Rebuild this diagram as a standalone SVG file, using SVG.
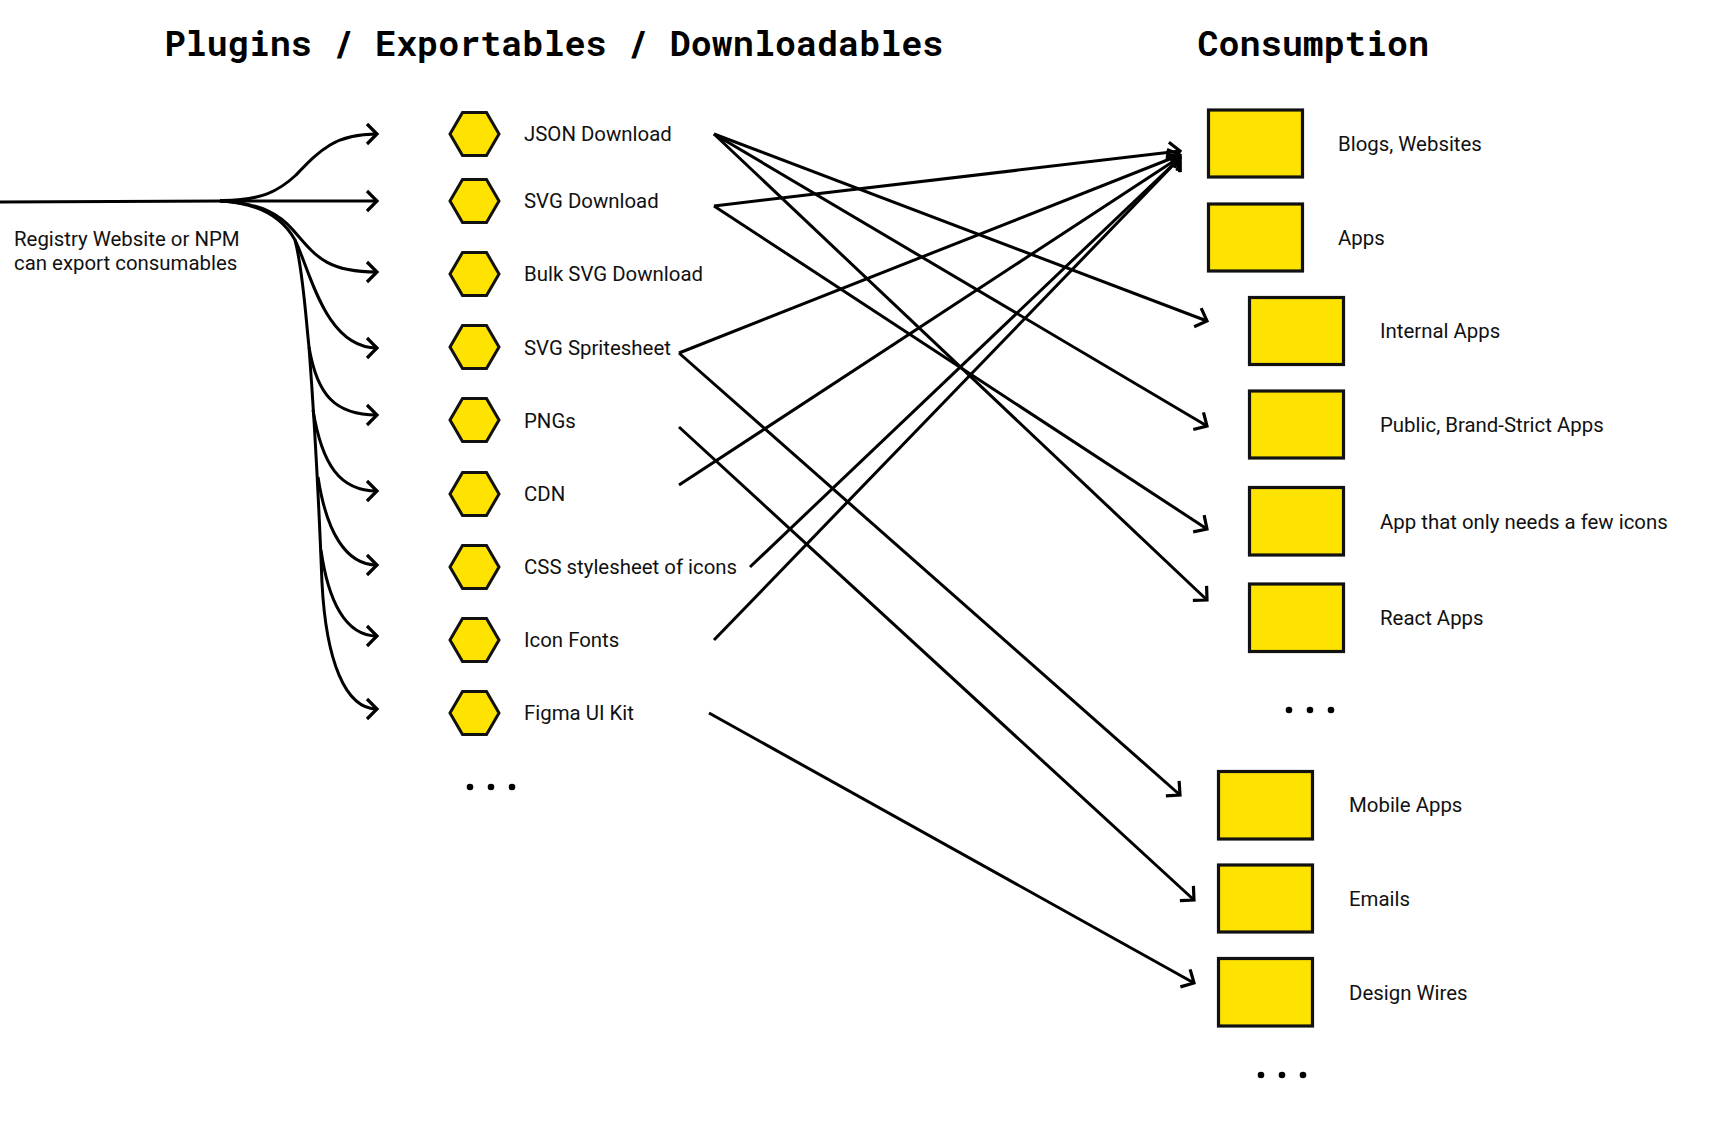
<svg xmlns="http://www.w3.org/2000/svg" width="1720" height="1132" viewBox="0 0 1720 1132">
<style>
.t{font-family:"Roboto Mono","DejaVu Sans Mono","Liberation Mono",monospace;font-weight:700;font-size:35.1px;fill:#000}
.l{font-family:Roboto,"Liberation Sans",sans-serif;font-size:20.4px;fill:#111}
.h{fill:#ffe300;stroke:#111;stroke-width:3;stroke-linejoin:miter}
.r{fill:#ffe300;stroke:#111;stroke-width:3.2}
.c{fill:none;stroke:#000;stroke-width:3}
.d{fill:#000}
</style>
<defs>
<marker id="a" markerUnits="userSpaceOnUse" markerWidth="30" markerHeight="30" refX="15" refY="15" orient="auto" overflow="visible"><path d="M5,5 L15,15 L5,25" fill="none" stroke="#000" stroke-width="3.2"/></marker>
<polygon id="hex" points="-24.5,0 -12,-21.5 12,-21.5 24.5,0 12,21.5 -12,21.5"/>
</defs>
<rect width="1720" height="1132" fill="#fff"/>
<text class="t" x="164.500" y="56">Plugins / Exportables / Downloadables</text>
<text class="t" x="1197.500" y="56">Consumption</text>
<g id="connectors">
<path class="c" d="M0,202 L225,201"/>
<path class="c" marker-end="url(#a)" d="M220,200.500 C262,201 280,190 296,175 C320,150 335,134 377,134"/>
<path class="c" marker-end="url(#a)" d="M220,201 L377,201"/>
<path class="c" marker-end="url(#a)" d="M220,201 C262,203 280,215 293,230 C315,255 325,272 377,272"/>
<path class="c" d="M220,201 C262,203 284,220 295,240 C303,270 306,320 309,347 C313,400 318,480 322,583"/>
<path class="c" marker-end="url(#a)" d="M295,240 C310,270 325,348 377,348"/>
<path class="c" marker-end="url(#a)" d="M309,347 C317,395 335,415 377,415"/>
<path class="c" marker-end="url(#a)" d="M313,410 C322,465 340,491 377,491"/>
<path class="c" marker-end="url(#a)" d="M318,477 C326,530 345,565 377,565"/>
<path class="c" marker-end="url(#a)" d="M321,550 C328,600 345,636 377,636"/>
<path class="c" marker-end="url(#a)" d="M322,583 C326,660 345,709 377,709"/>
<path class="c" marker-end="url(#a)" d="M714,134 L1207,321"/>
<path class="c" marker-end="url(#a)" d="M714,134 L1207,426"/>
<path class="c" marker-end="url(#a)" d="M714,134 L1207,600"/>
<path class="c" marker-end="url(#a)" d="M714,206 L1180,151"/>
<path class="c" marker-end="url(#a)" d="M714,206 L1207,529"/>
<path class="c" marker-end="url(#a)" d="M679,353 L1180,155"/>
<path class="c" marker-end="url(#a)" d="M679,353 L1180,795"/>
<path class="c" marker-end="url(#a)" d="M679,427 L1194,900"/>
<path class="c" marker-end="url(#a)" d="M679,485 L1180,157"/>
<path class="c" marker-end="url(#a)" d="M750,567 L1180,158"/>
<path class="c" marker-end="url(#a)" d="M714,640 L1180,158"/>
<path class="c" marker-end="url(#a)" d="M709,713 L1194,983"/>
</g>
<g id="source"><text class="l" x="14" y="246">Registry Website or NPM</text><text class="l" x="14" y="270">can export consumables</text></g>
<g id="p1"><use href="#hex" class="h" x="474.500" y="134"/><text class="l" x="524" y="141">JSON Download</text></g>
<g id="p2"><use href="#hex" class="h" x="474.500" y="201"/><text class="l" x="524" y="208">SVG Download</text></g>
<g id="p3"><use href="#hex" class="h" x="474.500" y="274"/><text class="l" x="524" y="281">Bulk SVG Download</text></g>
<g id="p4"><use href="#hex" class="h" x="474.500" y="347"/><text class="l" x="524" y="355">SVG Spritesheet</text></g>
<g id="p5"><use href="#hex" class="h" x="474.500" y="420"/><text class="l" x="524" y="428">PNGs</text></g>
<g id="p6"><use href="#hex" class="h" x="474.500" y="494"/><text class="l" x="524" y="501">CDN</text></g>
<g id="p7"><use href="#hex" class="h" x="474.500" y="567"/><text class="l" x="524" y="574">CSS stylesheet of icons</text></g>
<g id="p8"><use href="#hex" class="h" x="474.500" y="640"/><text class="l" x="524" y="647">Icon Fonts</text></g>
<g id="p9"><use href="#hex" class="h" x="474.500" y="713"/><text class="l" x="524" y="720">Figma UI Kit</text></g>
<g id="more1"><circle class="d" cx="470" cy="787" r="3.3"/><circle class="d" cx="491" cy="787" r="3.3"/><circle class="d" cx="512" cy="787" r="3.3"/></g>
<g id="c1"><rect class="r" x="1208.500" y="110" width="94" height="67"/><text class="l" x="1338" y="151">Blogs, Websites</text></g>
<g id="c2"><rect class="r" x="1208.500" y="204" width="94" height="67"/><text class="l" x="1338" y="245">Apps</text></g>
<g id="c3"><rect class="r" x="1249.500" y="297.500" width="94" height="67"/><text class="l" x="1380" y="338">Internal Apps</text></g>
<g id="c4"><rect class="r" x="1249.500" y="391" width="94" height="67"/><text class="l" x="1380" y="432">Public, Brand-Strict Apps</text></g>
<g id="c5"><rect class="r" x="1249.500" y="487.500" width="94" height="67.500"/><text class="l" x="1380" y="529">App that only needs a few icons</text></g>
<g id="c6"><rect class="r" x="1249.500" y="584" width="94" height="67.500"/><text class="l" x="1380" y="625">React Apps</text></g>
<g id="more2"><circle class="d" cx="1289" cy="710" r="3.3"/><circle class="d" cx="1310" cy="710" r="3.3"/><circle class="d" cx="1331" cy="710" r="3.3"/></g>
<g id="c7"><rect class="r" x="1218.500" y="771.500" width="94" height="67.500"/><text class="l" x="1349" y="812">Mobile Apps</text></g>
<g id="c8"><rect class="r" x="1218.500" y="865" width="94" height="67"/><text class="l" x="1349" y="906">Emails</text></g>
<g id="c9"><rect class="r" x="1218.500" y="958.500" width="94" height="67.500"/><text class="l" x="1349" y="999.500">Design Wires</text></g>
<g id="more3"><circle class="d" cx="1261" cy="1075" r="3.3"/><circle class="d" cx="1282" cy="1075" r="3.3"/><circle class="d" cx="1303" cy="1075" r="3.3"/></g>
</svg>
